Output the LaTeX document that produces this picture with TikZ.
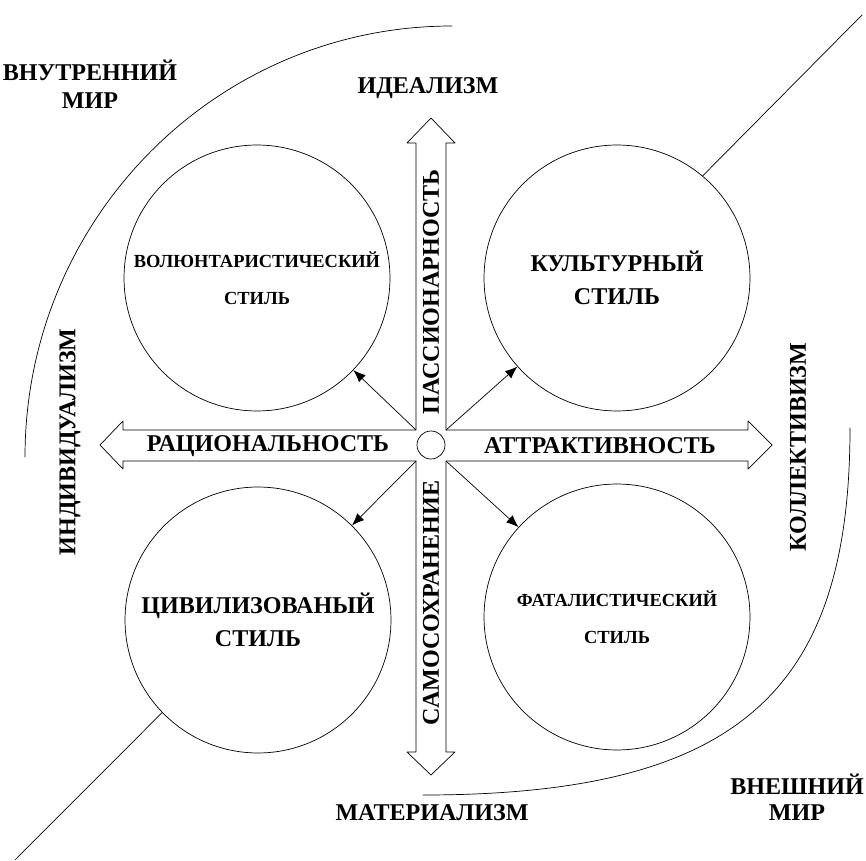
\documentclass[tikz,border=0pt]{standalone}
\usepackage{fontspec}
\usetikzlibrary{arrows.meta}
\setmainfont{Liberation Serif}
\newfontfamily\tnr{Liberation Serif}
\tikzset{
  big/.style={font=\tnr\bfseries\fontsize{13.7}{19}\selectfont, inner sep=0pt},
  small/.style={font=\tnr\bfseries\fontsize{10.5}{21}\selectfont, inner sep=0pt},
  ring/.style={draw, circle, minimum size=5.32cm, inner sep=0pt, align=center},
}
\begin{document}
\begin{tikzpicture}[x=0.02cm, y=-0.02cm, line join=round, line cap=round, >={Latex[length=7pt, width=5.5pt]}]
	\useasboundingbox (0,0) rectangle (866,861);
	%%%%%%%%%%%%%%%%%%%%%%%%%%%%%%%%%
	\coordinate (O) at (431,445);
	\coordinate (A) at (416,430);
	\coordinate (B) at (446,430);
	\coordinate (C) at (446,461);
	\coordinate (D) at (416,461);
	\coordinate (P) at (862,15);
	\coordinate (Q) at (15,860);
	%%%%%%%%%%%%%%%%%%%%%%%%%%%%%%%%%
	\node[draw, circle, minimum size=0.56cm, inner sep=0pt] (o) at (O) {};
	\draw (431,118) -- (455,143) -- (446,143) -- (B) -- (748,430) -- (748,421)
		-- (772,445) -- (748,469) -- (748,461) -- (C) -- (446,752) -- (455,752)
		-- (431,775) -- (407,752) -- (416,752) -- (D) -- (123,461) -- (123,469)
		-- (100,445) -- (123,421) -- (123,430) -- (A) -- (416,143) -- (407,143) -- cycle;
	%%%%%%%%%%%%%%%%%%%%%%%%%%%%%%%%%
	\node[ring, big] (UR) at (617,278) {КУЛЬТУРНЫЙ\\СТИЛЬ};
	\node[ring, big] (LL) at (258,620) {ЦИВИЛИЗОВАНЫЙ\\СТИЛЬ};
	\node[ring, small] (UL) at (257,278) {ВОЛЮНТАРИСТИЧЕСКИЙ\\СТИЛЬ};
	\node[ring, small] (LR) at (617,617) {ФАТАЛИСТИЧЕСКИЙ\\СТИЛЬ};
	%%%%%%%%%%%%%%%%%%%%%%%%%%%%%%%%%
	\draw[->] (A) -- (UL);
	\draw[->] (B) -- (UR);
	\draw[->] (C) -- (LR);
	\draw[->] (D) -- (LL);
	\draw (UR.50) -- (P);
	\draw (LL.224) -- (Q);
	%%%%%%%%%%%%%%%%%%%%%%%%%%%%%%%%%
	\draw (452,26) .. controls (216,26) and (25,219) .. (25,457);
	\draw (850,428) .. controls (850,690) and (740,795) .. (423,795);
	%%%%%%%%%%%%%%%%%%%%%%%%%%%%%%%%%
	\node[big, rotate=90] (pas) at (431,292) {ПАССИОНАРНОСТЬ};
	\node[big, rotate=90] (sam) at (431,603) {САМОСОХРАНЕНИЕ};
	\node[big] (rac) at (268,446) {РАЦИОНАЛЬНОСТЬ};
	\node[big] (att) at (600,446) {АТТРАКТИВНОСТЬ};
	\node[big] (ide) at (428,88) {ИДЕАЛИЗМ};
	\node[big] (mat) at (432,813) {МАТЕРИАЛИЗМ};
	\node[big, rotate=90] (ind) at (70,442) {ИНДИВИДУАЛИЗМ};
	\node[big, rotate=90] (kol) at (798,447) {КОЛЛЕКТИВИЗМ};
	\node[big, align=center, font=\tnr\bfseries\fontsize{13.7}{16}\selectfont] (vnu) at (90,84) {ВНУТРЕННИЙ\\МИР};
	\node[big, align=center, font=\tnr\bfseries\fontsize{13.7}{15}\selectfont] (vne) at (797,797) {ВНЕШНИЙ\\МИР};
\end{tikzpicture}
\end{document}
